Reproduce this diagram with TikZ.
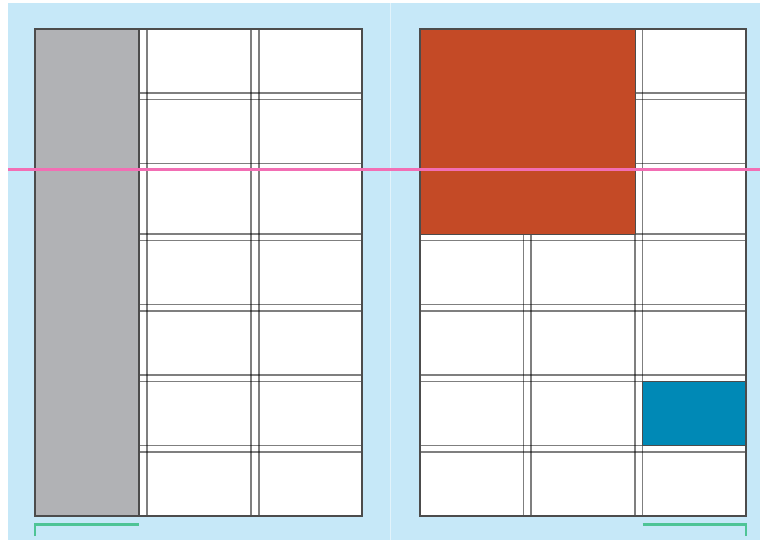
\documentclass[tikz,border=0pt]{standalone}
\definecolor{bgblue}{HTML}{C6E8F8}
\definecolor{colgray}{HTML}{B1B2B5}
\definecolor{orng}{HTML}{C44A26}
\definecolor{tealblue}{HTML}{0089B6}
\definecolor{pinkline}{RGB}{242,110,180}
\definecolor{greenmark}{HTML}{4EC496}
\tikzset{
  gridline/.style={draw=black, draw opacity=0.5, line width=1.7pt},
  pageborder/.style={draw=black!70, line width=1.6pt},
  bracket/.style={draw=greenmark, line width=2.2pt},
  guideline/.style={draw=pinkline, line width=2.2pt},
  spine/.style={draw=white, draw opacity=0.5, line width=1pt}
}
\begin{document}
\begin{tikzpicture}[x=1pt,y=-1pt]
\useasboundingbox (0,0) rectangle (760,540);
\fill[white] (0,0) rectangle (760,540);
\fill[bgblue] (8,3) rectangle (760,540);
\draw[spine] (390.5,3) -- (390.5,540);
% left page
\fill[white] (35,29) rectangle (362,516);
\fill[colgray] (35,29) rectangle (139,516);
\foreach \x in {139,147,251,259} \draw[gridline] (\x,29) -- (\x,516);
\foreach \y in {93,99.5,163.5,170,234,240.5,304.5,311,375,381.5,445.5,452}
  \draw[gridline] (139,\y) -- (362,\y);
\draw[pageborder] (35,29) rectangle (362,516);
\draw[pageborder] (139,29) -- (139,516);
% right page
\fill[white] (420,29) rectangle (746,516);
\fill[tealblue] (642.5,381.5) rectangle (746,445.5);
\foreach \x in {523.5,531} \draw[gridline] (\x,234) -- (\x,516);
\foreach \x in {635,642.5} \draw[gridline] (\x,29) -- (\x,516);
\foreach \y in {93,99.5,163.5,170} \draw[gridline] (635,\y) -- (746,\y);
\foreach \y in {234,240.5,304.5,311,375,381.5,445.5,452} \draw[gridline] (420,\y) -- (746,\y);
\fill[orng] (420,29) rectangle (635,234);
\draw[draw=black!70, line width=1pt] (420,29) rectangle (635,234);
\draw[draw=black!70, line width=1pt] (642.5,381.5) rectangle (746,445.5);
\draw[pageborder] (420,29) rectangle (746,516);
% guide and brackets
\draw[guideline] (8,169.5) -- (760,169.5);
\draw[bracket] (35,536) -- (35,524.5) -- (139,524.5);
\draw[bracket] (642.5,524.5) -- (746,524.5) -- (746,536);
\end{tikzpicture}
\end{document}
